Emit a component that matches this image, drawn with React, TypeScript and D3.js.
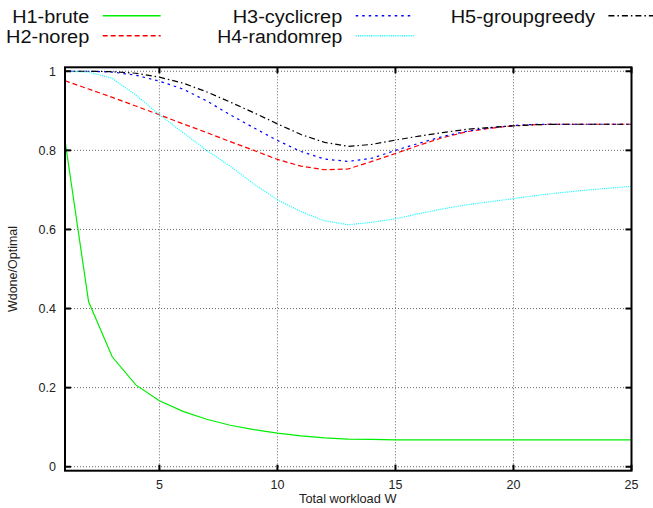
import * as d3 from "d3";
import React, { useEffect, useRef } from "react";

// total workload W
const workload = [1, 2, 3, 4, 5, 6, 7, 8, 9, 10, 11, 12, 13, 14, 15, 16, 17, 18, 19, 20, 21, 22, 23, 24, 25];

const bruteVals = [0.825, 0.417, 0.278, 0.207, 0.167, 0.14, 0.12, 0.105, 0.094, 0.085, 0.078, 0.073, 0.07, 0.069, 0.068, 0.068, 0.068, 0.068, 0.068, 0.068, 0.068, 0.068, 0.068, 0.068, 0.068];
const norepVals = [0.976, 0.955, 0.934, 0.912, 0.89, 0.867, 0.845, 0.822, 0.8, 0.777, 0.76, 0.751, 0.753, 0.772, 0.792, 0.813, 0.832, 0.847, 0.856, 0.862, 0.865, 0.866, 0.866, 0.866, 0.866];
const cyclicVals = [1.0, 1.0, 0.998, 0.99, 0.975, 0.955, 0.925, 0.89, 0.857, 0.825, 0.797, 0.778, 0.772, 0.78, 0.8, 0.818, 0.835, 0.848, 0.857, 0.863, 0.866, 0.866, 0.866, 0.866, 0.866];
const randomVals = [1.0, 0.998, 0.982, 0.94, 0.89, 0.845, 0.8, 0.76, 0.715, 0.675, 0.645, 0.622, 0.612, 0.618, 0.627, 0.64, 0.652, 0.662, 0.67, 0.678, 0.686, 0.693, 0.699, 0.704, 0.709];
const greedyVals = [1.0, 1.0, 0.999, 0.995, 0.985, 0.97, 0.948, 0.922, 0.895, 0.867, 0.84, 0.82, 0.81, 0.815, 0.826, 0.836, 0.845, 0.853, 0.858, 0.862, 0.865, 0.866, 0.866, 0.866, 0.866];

const xTicks = [5, 10, 15, 20, 25];
const yTicks = [0, 0.2, 0.4, 0.6, 0.8, 1];

const seriesNames = ["H1-brute", "H2-norep", "H3-cyclicrep", "H4-randomrep", "H5-groupgreedy"];
const seriesVals = [bruteVals, norepVals, cyclicVals, randomVals, greedyVals];

export default function App() {
  const svgRef = useRef<SVGSVGElement>(null);

  useEffect(() => {
    const W = 653;
    const H = 508;
    const svg = d3.select(svgRef.current).attr("width", W).attr("height", H);
    svg.selectAll("*").remove();

    const left = 65, right = 631.5, top = 67.3, bottom = 470.7;
    const font = "'Liberation Sans', Arial, Helvetica, sans-serif";

    const x = d3.scaleLinear().domain([1, 25]).range([left, right]);
    const y = d3.scaleLinear().domain([-0.01, 1.01]).range([bottom, top]);

    const styles = [
      { color: "#00ee00", dash: null },
      { color: "#ff0000", dash: "5,3" },
      { color: "#0000ff", dash: "2.5,4" },
      { color: "#00ffff", dash: "1,1.2" },
      { color: "#000000", dash: "6,3,1.5,3" },
    ];

    // grid
    const grid = svg.append("g").attr("stroke", "#666").attr("stroke-width", 1).attr("stroke-dasharray", "1,2");
    grid.selectAll(".gx")
      .data(xTicks.filter((d) => d < 25))
      .enter()
      .append("line")
      .attr("x1", (d) => x(d)).attr("x2", (d) => x(d))
      .attr("y1", top).attr("y2", bottom);
    grid.selectAll(".gy")
      .data(yTicks)
      .enter()
      .append("line")
      .attr("x1", left).attr("x2", right)
      .attr("y1", (d) => y(d)).attr("y2", (d) => y(d));

    // series
    const line = d3.line<number>()
      .x((_, i) => x(workload[i]))
      .y((d) => y(d));

    seriesVals.forEach((vals, i) => {
      svg.append("path")
        .datum(vals)
        .attr("fill", "none")
        .attr("stroke", styles[i].color)
        .attr("stroke-width", 1.2)
        .attr("stroke-dasharray", styles[i].dash)
        .attr("d", line);
    });

    // border
    svg.append("rect")
      .attr("x", left).attr("y", top)
      .attr("width", right - left).attr("height", bottom - top)
      .attr("fill", "none").attr("stroke", "#000").attr("stroke-width", 2);

    // ticks (inside, mirrored)
    const ticks = svg.append("g").attr("stroke", "#000").attr("stroke-width", 2);
    xTicks.forEach((t) => {
      ticks.append("line").attr("x1", x(t)).attr("x2", x(t)).attr("y1", bottom).attr("y2", bottom - 6);
      ticks.append("line").attr("x1", x(t)).attr("x2", x(t)).attr("y1", top).attr("y2", top + 6);
    });
    yTicks.forEach((t) => {
      ticks.append("line").attr("x1", left).attr("x2", left + 6).attr("y1", y(t)).attr("y2", y(t));
      ticks.append("line").attr("x1", right).attr("x2", right - 6).attr("y1", y(t)).attr("y2", y(t));
    });

    // tick labels
    svg.append("g").selectAll("text")
      .data(xTicks)
      .enter()
      .append("text")
      .attr("x", (d) => x(d))
      .attr("y", 488.5)
      .attr("text-anchor", "middle")
      .attr("font-family", font)
      .attr("font-size", "12.5px")
      .attr("fill", "#222")
      .text((d) => d);

    svg.append("g").selectAll("text")
      .data(yTicks)
      .enter()
      .append("text")
      .attr("x", 56)
      .attr("y", (d) => y(d) + 4.5)
      .attr("text-anchor", "end")
      .attr("font-family", font)
      .attr("font-size", "12.5px")
      .attr("fill", "#222")
      .text((d) => d3.format("~g")(d));

    // axis titles
    svg.append("text")
      .attr("x", (left + right) / 2 - 0.5)
      .attr("y", 503)
      .attr("text-anchor", "middle")
      .attr("font-family", font)
      .attr("font-size", "12.8px")
      .attr("fill", "#222")
      .text("Total workload W");

    svg.append("text")
      .attr("transform", `translate(17,${(top + bottom) / 2}) rotate(-90)`)
      .attr("text-anchor", "middle")
      .attr("font-family", font)
      .attr("font-size", "12.5px")
      .attr("fill", "#222")
      .text("Wdone/Optimal");

    // legend: 3 columns, 2 rows
    const colEnds = [89.3, 342.3, 595];
    const rowBase = [22.7, 42.7];
    const rowLine = [15.7, 35.7];
    const widths = [77, 83.3, 109.6, 125, 144.3];
    seriesNames.forEach((name, i) => {
      const col = Math.floor(i / 2);
      const row = i % 2;
      svg.append("text")
        .attr("x", colEnds[col] - widths[i])
        .attr("y", rowBase[row])
        .attr("font-family", font)
        .attr("font-size", "18px")
        .attr("textLength", widths[i])
        .attr("lengthAdjust", "spacingAndGlyphs")
        .attr("fill", "#111")
        .text(name);
      svg.append("line")
        .attr("x1", colEnds[col] + 13.4)
        .attr("x2", colEnds[col] + 71.4)
        .attr("y1", rowLine[row])
        .attr("y2", rowLine[row])
        .attr("stroke", styles[i].color)
        .attr("stroke-width", 1.5)
        .attr("stroke-dasharray", styles[i].dash);
    });
  }, []);

  return (
    <div style={{ position: "absolute", left: 0, top: 0 }}>
      <svg ref={svgRef} style={{ display: "block", background: "#fff" }}></svg>
    </div>
  );
}
